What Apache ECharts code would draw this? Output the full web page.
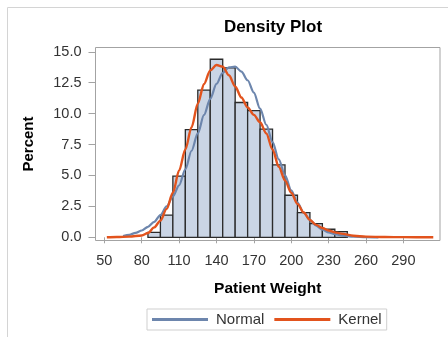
<!DOCTYPE html>
<html>
<head>
<meta charset="utf-8">
<script src="https://cdn.jsdelivr.net/npm/echarts@6/dist/echarts.min.js"></script>
<style>
  html, body { margin: 0; padding: 0; background: #fff; }
  #chart { width: 448px; height: 337px; }
</style>
</head>
<body>
<div id="chart"></div>
<script>
// histogram bins (midpoints, width 10) and percent per bin
const binMids = [90, 100, 110, 120, 130, 140, 150, 160, 170, 180, 190, 200, 210, 220, 230, 240];
const binPct = [0.4, 1.8, 4.95, 8.7, 11.9, 14.4, 13.7, 10.9, 10.25, 8.75, 5.85, 3.4, 2.0, 1.1, 0.65, 0.45];

// fitted curves
const normalX = [65, 70, 75, 80, 85, 90, 95, 100, 105, 110, 115, 120, 125, 130, 135, 140, 145, 150, 155, 160, 165, 170, 175, 180, 185, 190, 195, 200, 205, 210, 215, 220, 225, 230, 235, 240, 250, 260, 270];
const normalY = [0.1, 0.2, 0.35, 0.55, 0.85, 1.25, 1.8, 2.5, 3.3, 4.2, 5.5, 7.0, 8.4, 9.9, 11.2, 12.4, 13.3, 13.75, 13.8, 13.4, 12.7, 11.7, 10.4, 9.1, 7.7, 6.3, 5.0, 3.8, 2.8, 2.0, 1.4, 0.95, 0.62, 0.4, 0.25, 0.15, 0.05, 0.02, 0.0];
const kernelX = [52, 60, 70, 80, 85, 90, 95, 100, 105, 110, 115, 120, 125, 130, 135, 140, 145, 150, 155, 160, 165, 170, 175, 180, 185, 190, 195, 200, 205, 210, 215, 220, 225, 230, 235, 240, 250, 260, 275, 290, 314];
const kernelY = [0, 0.02, 0.05, 0.15, 0.35, 0.8, 1.35, 2.3, 3.6, 5.4, 7.1, 8.9, 10.8, 12.4, 13.5, 13.94, 13.8, 13.1, 12.2, 11.3, 10.5, 9.9, 9.3, 8.4, 7.1, 5.7, 4.6, 3.6, 2.7, 2.0, 1.4, 1.0, 0.75, 0.55, 0.4, 0.3, 0.12, 0.05, 0.02, 0.01, 0];

const xTicks = [50, 80, 110, 140, 170, 200, 230, 260, 290];
const yTicks = [0, 2.5, 5, 7.5, 10, 12.5, 15];

const font = 'Liberation Sans, Arial, sans-serif';
const frameColor = '#a3a3a3';

const chart = echarts.init(document.getElementById('chart'));

chart.setOption({
  animation: false,
  textStyle: { fontFamily: font },
  title: {
    text: 'Density Plot',
    left: 268,
    top: 14,
    textAlign: 'center',
    textStyle: { fontFamily: font, fontSize: 17, fontWeight: 'bold', color: '#000' }
  },
  graphic: [{
    type: 'rect',
    shape: { x: 7.5, y: 7.5, width: 600, height: 500 },
    style: { fill: null, stroke: '#d4d4d4', lineWidth: 1 },
    silent: true,
    z: -10
  }],
  grid: {
    left: 95.5, top: 47.5, right: 8, bottom: 96.5,
    show: true, borderColor: frameColor, borderWidth: 1
  },
  legend: {
    left: 147, top: 309,
    padding: [3, 5, 3, 5],
    itemGap: 10,
    itemWidth: 56, itemHeight: 3,
    borderColor: '#cfcfcf', borderWidth: 1,
    textStyle: { fontFamily: font, fontSize: 15, color: '#333', padding: [0, 0, 0, 3] },
    data: [{ name: 'Normal', icon: 'rect' }, { name: 'Kernel', icon: 'rect' }]
  },
  xAxis: {
    type: 'value',
    min: 42.9, max: 319.4,
    name: 'Patient Weight',
    nameLocation: 'middle',
    nameGap: 40,
    nameTextStyle: { fontFamily: font, fontSize: 15.5, fontWeight: 'bold', color: '#000' },
    axisLine: { show: false },
    splitLine: { show: false },
    axisTick: { show: true, length: 6, lineStyle: { color: frameColor }, customValues: xTicks },
    axisLabel: { fontSize: 14.5, color: '#333', margin: 13, customValues: xTicks }
  },
  yAxis: {
    type: 'value',
    min: -0.26, max: 15.35,
    name: 'Percent',
    nameLocation: 'middle',
    nameGap: 59,
    nameTextStyle: { fontFamily: font, fontSize: 15, fontWeight: 'bold', color: '#000' },
    axisLine: { show: false },
    splitLine: { show: false },
    axisTick: { show: true, length: 7, lineStyle: { color: frameColor }, customValues: yTicks },
    axisLabel: {
      fontSize: 14.5, color: '#333', margin: 14, customValues: yTicks,
      formatter: v => v.toFixed(1)
    }
  },
  series: [
    {
      name: 'Histogram',
      type: 'custom',
      data: binMids.map((m, i) => [m, binPct[i]]),
      renderItem: (params, api) => {
        const p0 = api.coord([api.value(0) - 5, api.value(1)]);
        const p1 = api.coord([api.value(0) + 5, 0]);
        return {
          type: 'rect',
          shape: { x: p0[0], y: p0[1], width: p1[0] - p0[0], height: p1[1] - p0[1] },
          style: { fill: '#cad5e5', stroke: '#2b2b2b', lineWidth: 1.3 }
        };
      },
      z: 1
    },
    {
      name: 'Normal',
      type: 'line',
      data: normalX.map((x, i) => [x, normalY[i]]),
      smooth: 0.3,
      smoothMonotone: 'x',
      showSymbol: false,
      color: '#6d86ad',
      lineStyle: { width: 2.2, color: '#6d86ad' },
      z: 2
    },
    {
      name: 'Kernel',
      type: 'line',
      data: kernelX.map((x, i) => [x, kernelY[i]]),
      smooth: 0.3,
      smoothMonotone: 'x',
      showSymbol: false,
      color: '#e2531d',
      lineStyle: { width: 2.4, color: '#e2531d' },
      z: 3
    }
  ]
});
</script>
</body>
</html>
